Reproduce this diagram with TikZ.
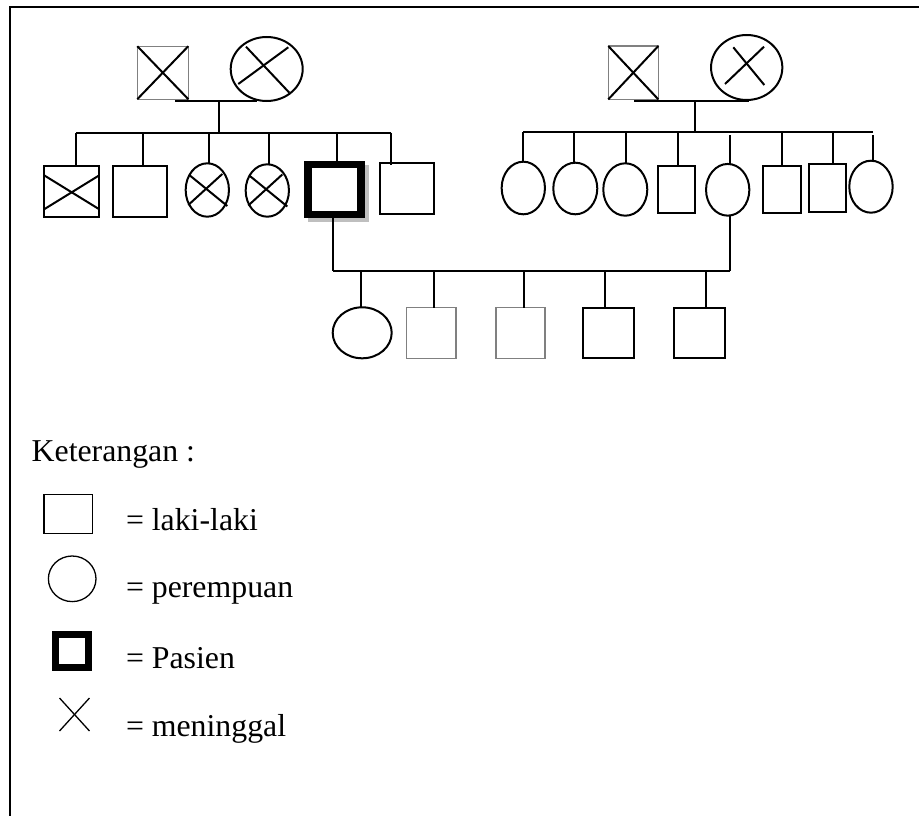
\documentclass[tikz,border=0pt]{standalone}
\usepackage{fontspec}
\setmainfont{Liberation Serif}
\usetikzlibrary{shapes.geometric,calc}
\tikzset{
  ln/.style={line width=2pt},
  thinln/.style={line width=1.3pt},
  male/.style={rectangle, draw, line width=2pt, inner sep=0pt, outer sep=0pt, fill=white},
  female/.style={ellipse, draw, line width=2pt, inner sep=0pt, outer sep=0pt, fill=white},
  faint/.style={draw=black!50, line width=1.3pt},
  proband/.style={rectangle, draw, line width=7.5pt, inner sep=0pt, outer sep=0pt, fill=white},
  shade/.style={rectangle, fill=black!25, inner sep=0pt, outer sep=0pt},
  sz/.style 2 args={minimum width=#1, minimum height=#2},
  lbl/.style={anchor=base west, inner sep=0pt, outer sep=0pt, font=\fontsize{31.8}{36}\selectfont},
}
\begin{document}
\begin{tikzpicture}[x=1pt, y=-1pt]
\useasboundingbox (0,0) rectangle (919,816);
% outer frame (top and left edges)
\draw[ln] (10,816) -- (10,7) -- (919,7);

% ---------------- paternal side ----------------
\node[male, faint, sz={51}{53}] (gf1) at (162.8,72.7) {};
\node[female, sz={72}{64}] (gm1) at (266.7,69) {};
\draw[ln] (gf1.north west) -- (gf1.south east);
\draw[ln] (gf1.south west) -- (gf1.north east);
\draw[ln] ($(gm1.center)+(-20.7,-22.3)$) -- ($(gm1.center)+(22.6,23.7)$);
\draw[ln] ($(gm1.center)+(-28.4,15)$) -- ($(gm1.center)+(21.6,-21.7)$);
\coordinate (mAl) at (175,100.7);
\coordinate (mAr) at (256.7,100.7);
\coordinate (jA) at (219.3,100.7);
\coordinate (sA) at (219.3,132.5);
\coordinate (sAl) at (76,132.5);
\coordinate (sAr) at (390.7,132.5);
\draw[ln] (mAl) -- (mAr);
\draw[ln] (jA) -- (sA);
\draw[ln] (sAl) -- (sAr);

\node[male, sz={55.3}{50.7}] (L1) at (71.7,191.3) {};
\node[male, sz={54.6}{50.7}] (L2) at (140,191.3) {};
\node[female, sz={43.3}{53.4}] (L3) at (207.3,190) {};
\node[female, sz={43.3}{52.4}] (L4) at (267.3,190.5) {};
\node[shade, sz={61}{57.3}] (L5s) at (338,193.7) {};
\node[proband, sz={53}{50}] (L5) at (334.5,189.7) {};
\node[male, sz={54}{50.7}] (L6) at (407,188.7) {};

\draw[ln] ($(L1.center)+(-27.6,-16)$) -- ($(L1.center)+(27.6,18)$);
\draw[ln] ($(L1.center)+(-27.6,18)$) -- ($(L1.center)+(27.6,-16)$);
\foreach \n in {L3,L4}{
  \draw[ln] ($(\n.center)+(-18,-15)$) -- ($(\n.center)+(20,16)$);
  \draw[ln] ($(\n.center)+(-19,15)$) -- ($(\n.center)+(15,-16)$);
}

\coordinate (tL1) at (76,132.5);
\coordinate (tL2) at (142.7,132.5);
\coordinate (tL3) at (209.3,132.5);
\coordinate (tL4) at (269,132.5);
\coordinate (tL5) at (336.7,132.5);
\coordinate (tL6) at (390.7,132.5);
\foreach \n in {L1,L2,L3,L4,L5}{
  \draw[ln] (t\n) -- (t\n |- \n.north);
}
\draw[ln] (tL6) -- ($(tL6 |- L6.north)+(0,1.7)$);

% ---------------- maternal side ----------------
\node[male, faint, sz={50}{53.3}] (gf2) at (633.3,72.7) {};
\node[female, sz={71.3}{65}] (gm2) at (746.7,67.5) {};
\draw[ln] (gf2.north west) -- (gf2.south east);
\draw[ln] (gf2.south west) -- (gf2.north east);
\draw[ln] ($(gm2.center)+(-21.7,16.5)$) -- ($(gm2.center)+(17.3,-20.8)$);
\draw[ln] ($(gm2.center)+(-13.4,-20.2)$) -- ($(gm2.center)+(17.6,17.5)$);
\coordinate (mBl) at (634,100.7);
\coordinate (mBr) at (749.3,100.7);
\coordinate (jB) at (695,100.7);
\coordinate (sB) at (695,131.7);
\coordinate (sBl) at (523.3,131.7);
\coordinate (sBr) at (872.7,131.7);
\draw[ln] (mBl) -- (mBr);
\draw[ln] (jB) -- (sB);
\draw[ln] (sBl) -- (sBr);

\node[female, sz={43.3}{52.6}] (R1) at (523.3,188) {};
\node[female, sz={44}{51.6}] (R2) at (575.3,188.5) {};
\node[female, sz={44}{52.4}] (R3) at (625.3,189.5) {};
\node[male, sz={36.7}{46.7}] (R4) at (676.7,189.3) {};
\node[female, sz={43.3}{51.7}] (R5) at (727.7,189.8) {};
\node[male, sz={37.4}{47.3}] (R6) at (782,189.7) {};
\node[male, sz={37}{47.4}] (R7) at (827.5,188) {};
\node[female, sz={43.4}{52}] (R8) at (871,186.7) {};

\coordinate (tR1) at (523.3,131.7);
\coordinate (tR2) at (574,131.7);
\coordinate (tR3) at (626,131.7);
\coordinate (tR4) at (677.7,131.7);
\coordinate (tR5) at (730,135);
\coordinate (tR6) at (781.7,131.7);
\coordinate (tR7) at (833.3,131.7);
\coordinate (tR8) at (872.7,135);
\foreach \n in {R1,R2,R3,R4,R5,R6,R7,R8}{
  \draw[ln] (t\n) -- (t\n |- \n.north);
}

% ---------------- patient's children ----------------
\coordinate (bA) at (333.3,270.7);
\coordinate (bB) at (730,270.7);
\draw[ln] (L5.south -| bA) -- (bA);
\draw[ln] (bB |- R5.south) -- (bB);
\draw[ln] (bA) -- (bB);

\node[female, sz={59}{51}] (G1) at (362.2,332.8) {};
\node[male, faint, sz={49.3}{50.6}] (G2) at (431.3,333) {};
\node[male, faint, sz={49}{50.6}] (G3) at (520.5,333) {};
\node[male, sz={51.3}{50.6}] (G4) at (608.3,333) {};
\node[male, sz={51}{50.6}] (G5) at (699.5,333) {};

\coordinate (tG1) at (361,270.7);
\coordinate (tG2) at (434,270.7);
\coordinate (tG3) at (524,270.7);
\coordinate (tG4) at (605,270.7);
\coordinate (tG5) at (706,270.7);
\foreach \n in {G1,G2,G3,G4,G5}{
  \draw[ln] (t\n) -- (t\n |- \n.north);
}

% ---------------- legend ----------------
\node[lbl] (ket) at (31.7,461.7) {Keterangan :};

\node[rectangle, draw, thinln, inner sep=0pt, outer sep=0pt, sz={48.3}{39}] (kM) at (68.2,513.8) {};
\node[lbl] (tM) at (126,530) {= laki-laki};

\node[ellipse, draw, thinln, inner sep=0pt, outer sep=0pt, sz={47.6}{45.6}] (kF) at (72.2,578.8) {};
\node[lbl] (tF) at (126,597) {= perempuan};

\node[proband, line width=7pt, sz={33}{33}] (kP) at (72.3,650.5) {};
\node[lbl] (tP) at (126,668.3) {= Pasien};

\coordinate (kX) at (74.5,714);
\draw[thinln] ($(kX)+(-15,-16)$) -- ($(kX)+(15,17)$);
\draw[thinln] ($(kX)+(-15,17)$) -- ($(kX)+(15,-16)$);
\node[lbl] (tX) at (126,736.5) {= meninggal};
\end{tikzpicture}
\end{document}
